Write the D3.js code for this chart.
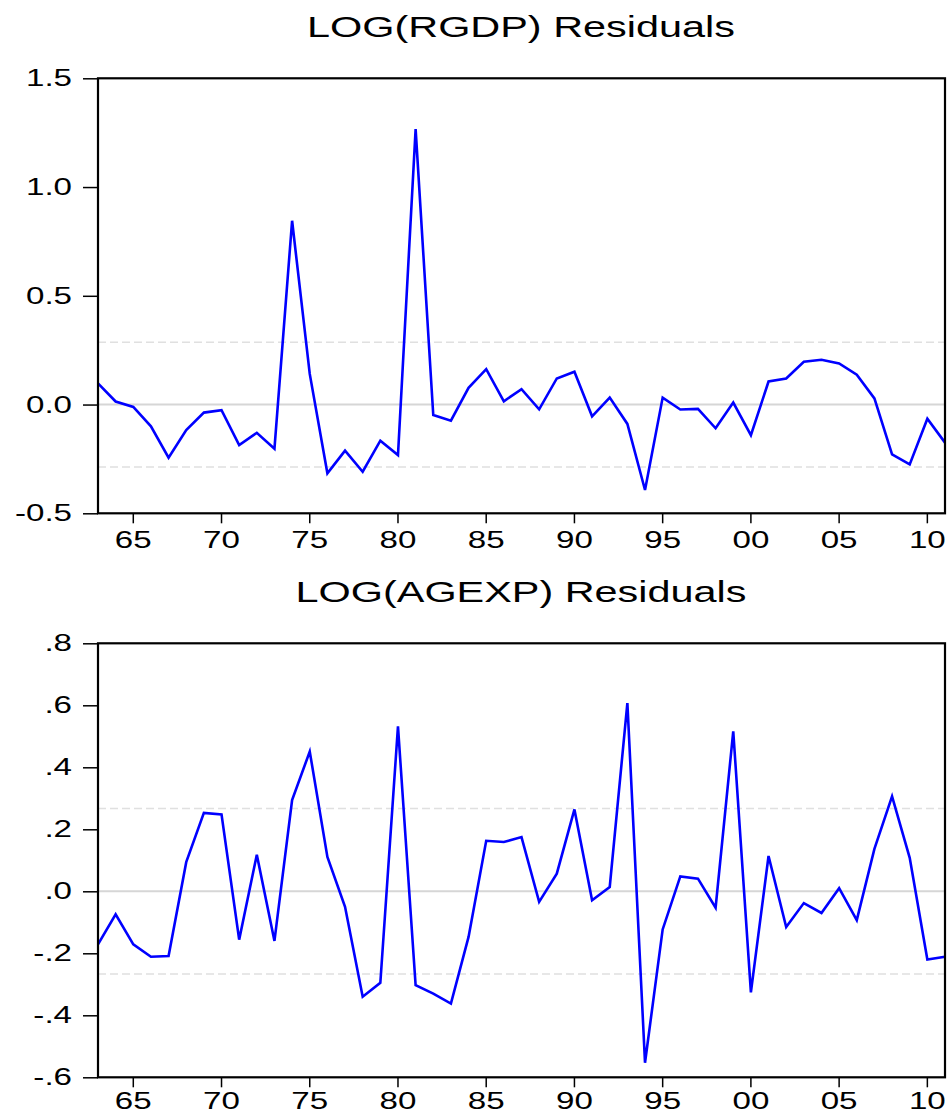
<!DOCTYPE html>
<html>

<head>
    <meta charset="utf-8">
    <title>Residuals</title>
    <script src="https://d3js.org/d3.v7.min.js"></script>
    <style>
        body {
            margin: 0;
            background: white;
        }

        text {
            font-family: "Liberation Sans", Arial, sans-serif;
            fill: black;
        }
    </style>
</head>

<body>
    <svg width="951" height="1115"></svg>
    <script>
        // Years on the x axis
        const years = [1963, 1964, 1965, 1966, 1967, 1968, 1969, 1970, 1971, 1972,
            1973, 1974, 1975, 1976, 1977, 1978, 1979, 1980, 1981, 1982,
            1983, 1984, 1985, 1986, 1987, 1988, 1989, 1990, 1991, 1992,
            1993, 1994, 1995, 1996, 1997, 1998, 1999, 2000, 2001, 2002,
            2003, 2004, 2005, 2006, 2007, 2008, 2009, 2010, 2011];

        // LOG(RGDP) residuals
        const rgdpResid = [0.097, 0.014, -0.011, -0.100, -0.244, -0.117, -0.037, -0.026, -0.186, -0.130,
            -0.203, 0.845, 0.141, -0.316, -0.212, -0.309, -0.166, -0.232, 1.266, -0.048,
            -0.074, 0.077, 0.163, 0.015, 0.071, -0.022, 0.120, 0.151, -0.054, 0.032,
            -0.089, -0.393, 0.032, -0.023, -0.020, -0.109, 0.009, -0.141, 0.106, 0.120,
            0.197, 0.206, 0.189, 0.137, 0.028, -0.229, -0.275, -0.065, -0.175];

        // LOG(AGEXP) residuals
        const agexpResid = [-0.171, -0.074, -0.171, -0.211, -0.209, 0.094, 0.253, 0.248, -0.156, 0.118,
            -0.160, 0.294, 0.451, 0.111, -0.050, -0.340, -0.295, 0.532, -0.303, -0.330,
            -0.362, -0.147, 0.163, 0.159, 0.175, -0.034, 0.057, 0.264, -0.029, 0.014,
            0.607, -0.553, -0.123, 0.048, 0.041, -0.053, 0.516, -0.326, 0.114, -0.115,
            -0.038, -0.070, 0.010, -0.093, 0.137, 0.306, 0.108, -0.220, -0.211];

        // +/- 2 S.E. bands
        const rgdpBand = 0.287;
        const agexpBand = 0.267;

        // Tick values and labels
        const xTicks = [1965, 1970, 1975, 1980, 1985, 1990, 1995, 2000, 2005, 2010];
        const rgdpTicks = [1.5, 1.0, 0.5, 0.0, -0.5];
        const rgdpLabels = ["1.5", "1.0", "0.5", "0.0", "-0.5"];
        const agexpTicks = [0.8, 0.6, 0.4, 0.2, 0.0, -0.2, -0.4, -0.6];
        const agexpLabels = [".8", ".6", ".4", ".2", ".0", "-.2", "-.4", "-.6"];

        const svg = d3.select("svg");
        const stretch = 1.38; // text in the picture is drawn wide

        const x = d3.scaleLinear().domain([1963, 2011]).range([98, 945]);

        function drawPanel(opt) {
            const g = svg.append("g");
            const y = d3.scaleLinear().domain(opt.domain).range([opt.bottom, opt.top]);

            // title
            g.append("text")
                .attr("transform", `translate(521,${opt.titleY}) scale(${stretch},1)`)
                .attr("text-anchor", "middle")
                .style("font-size", "30px")
                .text(opt.title);

            // zero line
            g.append("line")
                .attr("x1", x.range()[0]).attr("x2", x.range()[1])
                .attr("y1", y(0)).attr("y2", y(0))
                .attr("stroke", "#d6d6d6")
                .attr("stroke-width", 2);

            // dashed bands
            [opt.band, -opt.band].forEach(v => {
                g.append("line")
                    .attr("x1", x.range()[0]).attr("x2", x.range()[1])
                    .attr("y1", y(v)).attr("y2", y(v))
                    .attr("stroke", "#e0e0e0")
                    .attr("stroke-width", 1.5)
                    .attr("stroke-dasharray", "8,4");
            });

            // residual line
            const line = d3.line()
                .x((d, i) => x(years[i]))
                .y(d => y(d));
            g.append("path")
                .datum(opt.values)
                .attr("d", line)
                .attr("fill", "none")
                .attr("stroke", "#0000ff")
                .attr("stroke-width", 2.6)
                .attr("stroke-linejoin", "miter");

            // frame
            g.append("rect")
                .attr("x", x.range()[0])
                .attr("y", opt.top)
                .attr("width", x.range()[1] - x.range()[0])
                .attr("height", opt.bottom - opt.top)
                .attr("fill", "none")
                .attr("stroke", "black")
                .attr("stroke-width", 2.2);

            // y axis
            const yAxis = g.append("g")
                .attr("transform", `translate(${x.range()[0]},0)`)
                .call(d3.axisLeft(y)
                    .tickValues(opt.ticks)
                    .tickFormat((d, i) => opt.labels[i])
                    .tickSize(15)
                    .tickSizeOuter(0)
                    .tickPadding(11));
            yAxis.select(".domain").remove();
            yAxis.selectAll("line").attr("stroke", "black").attr("stroke-width", 1.5);
            yAxis.selectAll("text")
                .style("font-size", "24px")
                .attr("font-family", null)
                .attr("x", -26 / stretch)
                .attr("transform", `scale(${stretch},1)`);

            // x axis
            const xAxis = g.append("g")
                .attr("transform", `translate(0,${opt.bottom})`)
                .call(d3.axisBottom(x)
                    .tickValues(xTicks)
                    .tickFormat(d => String(d).slice(2))
                    .tickSize(10)
                    .tickSizeOuter(0)
                    .tickPadding(opt.xPad));
            xAxis.select(".domain").remove();
            xAxis.selectAll("line").attr("stroke", "black").attr("stroke-width", 1.5);
            xAxis.selectAll(".tick text")
                .style("font-size", "24px")
                .attr("font-family", null)
                .attr("transform", `scale(${stretch},1)`);
            // keep the labels centred on their ticks after the stretch
            xAxis.selectAll(".tick").each(function (d) {
                d3.select(this).attr("transform", null);
                d3.select(this).select("line").attr("x1", x(d)).attr("x2", x(d));
                d3.select(this).select("text").attr("x", x(d) / stretch);
            });
        }

        drawPanel({
            title: "LOG(RGDP) Residuals",
            titleY: 37,
            values: rgdpResid,
            domain: [-0.5, 1.5],
            top: 78.3,
            bottom: 513.3,
            band: rgdpBand,
            ticks: rgdpTicks,
            labels: rgdpLabels,
            xPad: 8
        });

        // bottom labels sit a little higher so they stay inside the page
        drawPanel({
            title: "LOG(AGEXP) Residuals",
            titleY: 602,
            values: agexpResid,
            domain: [-0.6, 0.8],
            top: 643.3,
            bottom: 1077.3,
            band: agexpBand,
            ticks: agexpTicks,
            labels: agexpLabels,
            xPad: 5
        });
    </script>
</body>

</html>
